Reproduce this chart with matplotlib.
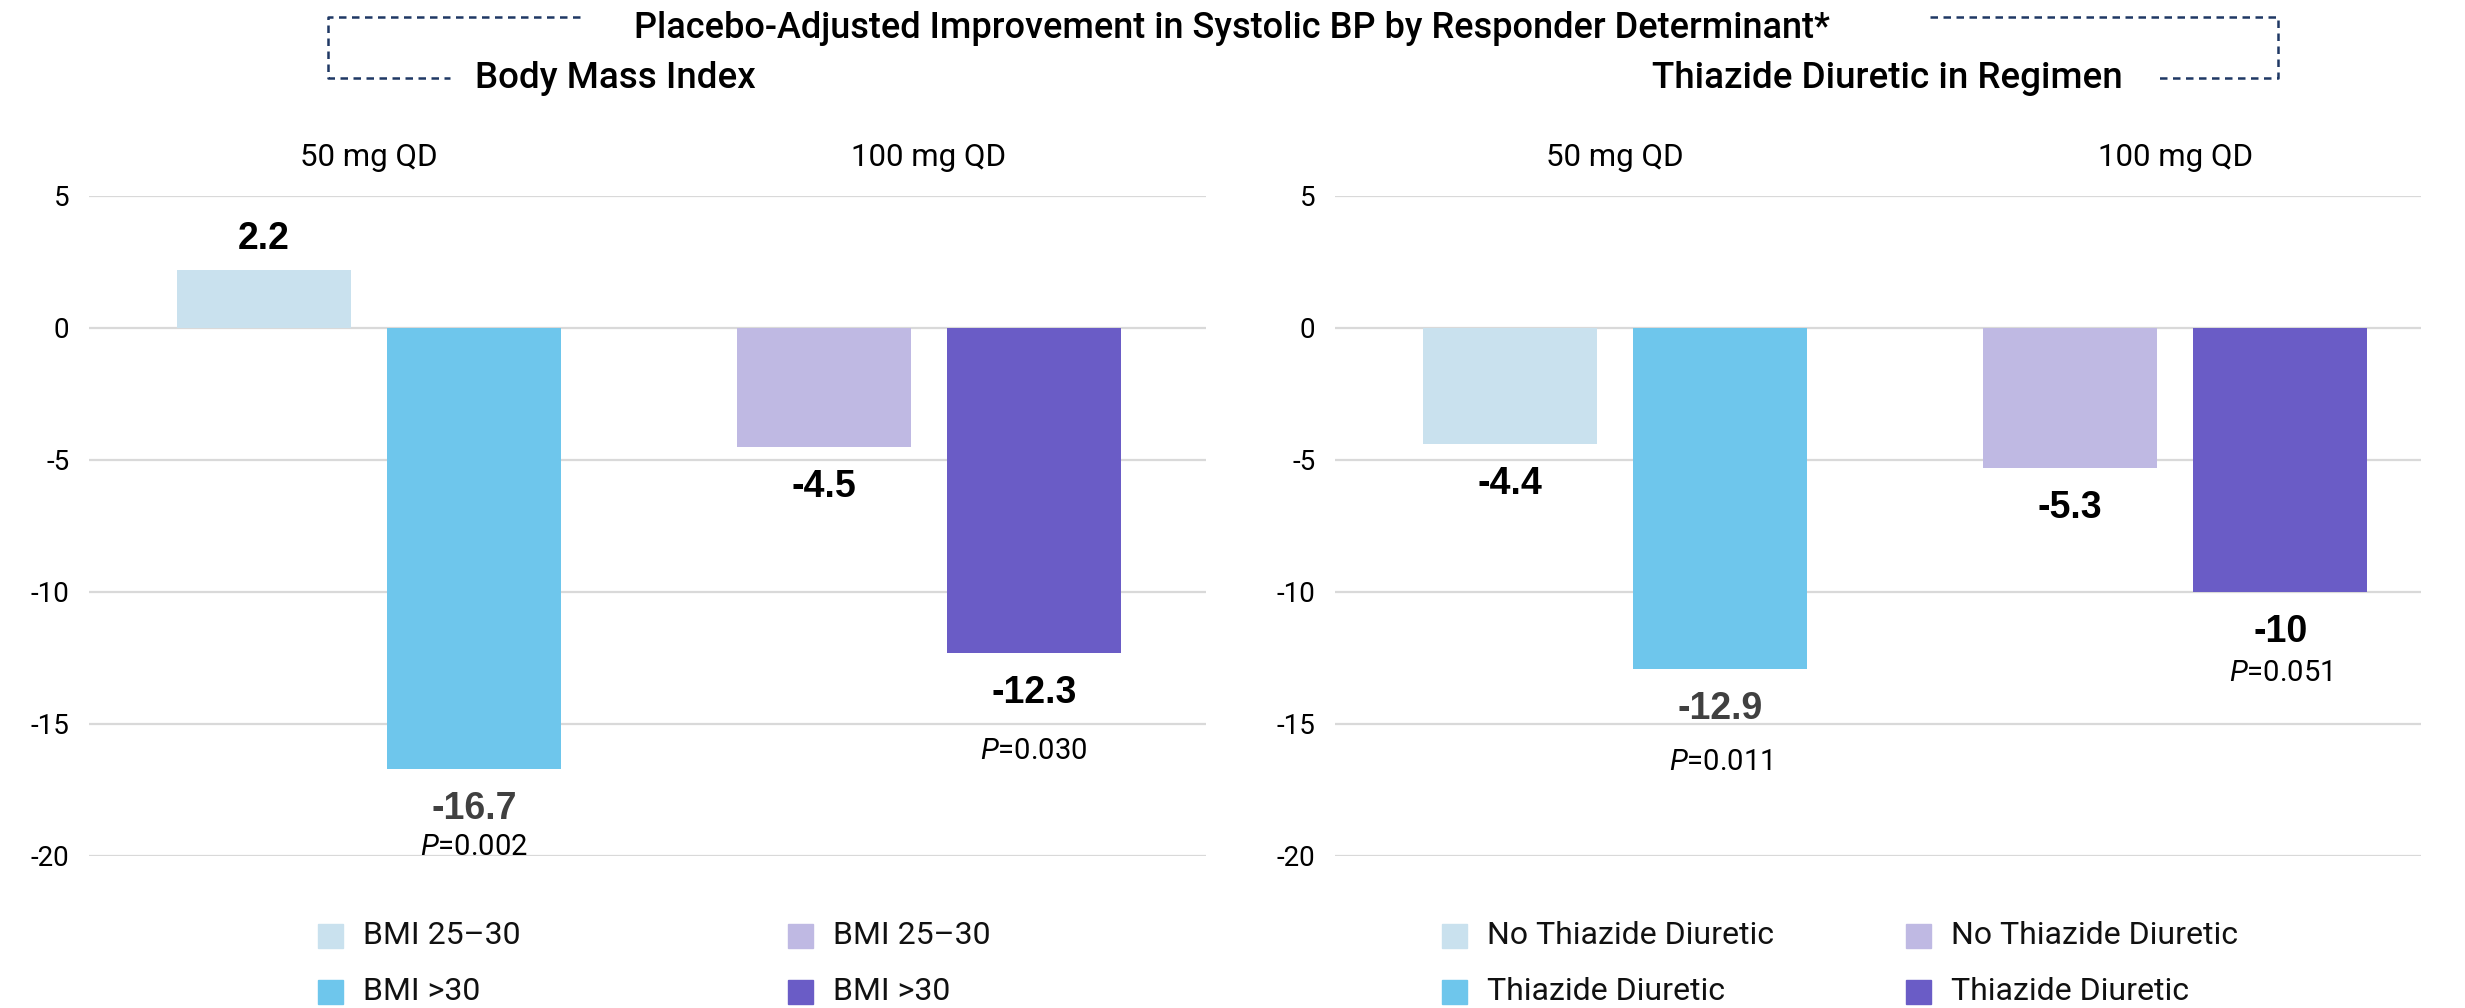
import numpy as np
import matplotlib
matplotlib.use("Agg")
import matplotlib.pyplot as plt
from matplotlib.lines import Line2D
from matplotlib.patches import Rectangle

plt.rcParams['font.family'] = ['Roboto', 'DejaVu Sans']
plt.rcParams['axes.unicode_minus'] = False
plt.rcParams['mathtext.fontset'] = 'custom'
plt.rcParams['mathtext.rm'] = 'Roboto:light'
plt.rcParams['mathtext.it'] = 'Roboto:italic'

# data
doses = ['50 mg QD', '100 mg QD']
bmi_low = [2.2, -4.5]        # BMI 25-30
bmi_high = [-16.7, -12.3]    # BMI >30
bmi_p = ['0.002', '0.030']
no_thz = [-4.4, -5.3]        # no thiazide diuretic
thz = [-12.9, -10.0]         # thiazide diuretic
thz_p = ['0.011', '0.051']

light_cols = ['#C9E1EE', '#BFB9E3']
dark_cols = ['#6EC6EC', '#6A5CC6']
bmi_lbl_cols = [['#000000', '#404040'], ['#000000', '#000000']]
thz_lbl_cols = [['#000000', '#404040'], ['#000000', '#000000']]
p_gap_bmi = [27, 42]   # points below value label
p_gap_thz = [38, 29]

W, H = 2465, 1008
fig = plt.figure(figsize=(W / 100, H / 100), dpi=100)


def fx(px):
    return px / W


def fy(py):
    return 1 - py / H


ax1 = fig.add_axes([fx(89), fy(856), fx(1206 - 89), 660 / H])
ax2 = fig.add_axes([fx(1335), fy(856), fx(2421 - 1335), 660 / H])

x = np.arange(len(doses))
off = 0.1875
bw = 0.31


def panel(ax, low, high, pvals, lbl_cols, p_gap, xmax):
    ax.set_xlim(-0.5, xmax)
    ax.set_ylim(-20, 5)
    ax.set_yticks([5, 0, -5, -10, -15, -20])
    ax.yaxis.grid(True, color='#D9D9D9', lw=1.6)
    ax.set_axisbelow(True)
    for s in ax.spines.values():
        s.set_visible(False)
    ax.tick_params(axis='y', length=0, labelsize=20, pad=14)
    ax.set_xticks([])
    for i in range(len(x)):
        for j, (v, c) in enumerate([(low[i], light_cols[i]), (high[i], dark_cols[i])]):
            xp = x[i] + (-off if j == 0 else off)
            ax.bar(xp, v, bw, color=c, zorder=2)
            dy = 22 if v > 0 else -29
            ax.annotate(f'{v:g}', (xp, v), xytext=(0, dy), textcoords='offset points',
                        ha='center', va='center', fontsize=27, fontweight='bold',
                        family=['Liberation Sans', 'DejaVu Sans'],
                        color=lbl_cols[i][j])
            if j == 1:
                ax.annotate(r'$\it{P}$=' + pvals[i], (xp, v),
                            xytext=(0, dy - p_gap[i]), textcoords='offset points',
                            ha='center', va='center', fontsize=21, color='black')
        ax.text(x[i], 1.059, doses[i], transform=ax.get_xaxis_transform(),
                ha='center', va='center', fontsize=22.5)


panel(ax1, bmi_low, bmi_high, bmi_p, bmi_lbl_cols, p_gap_bmi, 1.4946)
panel(ax2, no_thz, thz, thz_p, thz_lbl_cols, p_gap_thz, 1.439)

# title and panel headers
fig.text(0.5, fy(38), 'Placebo-Adjusted Improvement in Systolic BP by Responder Determinant*',
         ha='center', va='baseline', fontsize=26, fontweight='medium')
fig.text(fx(475), fy(88), 'Body Mass Index', ha='left', va='baseline',
         fontsize=26.5, fontweight='medium')
fig.text(fx(2123), fy(88), 'Thiazide Diuretic in Regimen', ha='right', va='baseline',
         fontsize=26.5, fontweight='medium')

navy = '#1F3864'
for xs, ys in [([580, 328, 328, 450], [17, 17, 78, 78]),
               ([1930, 2278, 2278, 2155], [17, 17, 78, 78])]:
    fig.add_artist(Line2D([fx(v) for v in xs], [fy(v) for v in ys], color=navy,
                          lw=1.8, dashes=(3, 2.2), transform=fig.transFigure))

# legends
legend_sets = [
    ([318, 788], [['BMI 25\u201330', 'BMI >30'], ['BMI 25\u201330', 'BMI >30']]),
    ([1442, 1906], [['No Thiazide Diuretic', 'Thiazide Diuretic'],
                    ['No Thiazide Diuretic', 'Thiazide Diuretic']]),
]
rows = [936, 992]
for xcols, names in legend_sets:
    for i, xc in enumerate(xcols):
        for j, yr in enumerate(rows):
            c = light_cols[i] if j == 0 else dark_cols[i]
            fig.add_artist(Rectangle((fx(xc), fy(yr + 12)), fx(25), 24 / H,
                                     color=c, transform=fig.transFigure))
            fig.text(fx(xc + 45), fy(yr), names[i][j], ha='left', va='center',
                     fontsize=23, color='#111111')

fig.savefig('out.png', dpi=100)
